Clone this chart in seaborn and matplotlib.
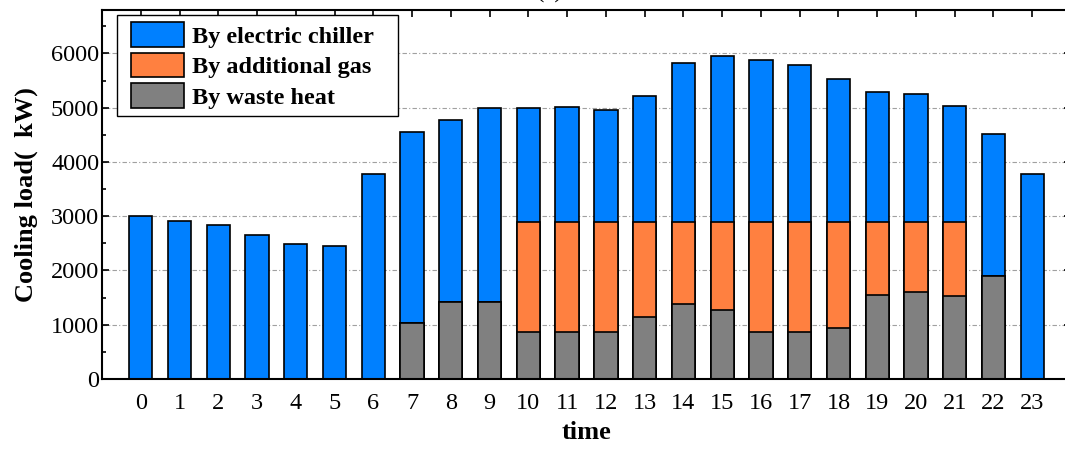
import matplotlib
matplotlib.use("Agg")
import matplotlib.pyplot as plt
from matplotlib.patches import Patch, Rectangle
from matplotlib.ticker import MultipleLocator
import numpy as np
import seaborn as sns

# Hourly cooling supply (kW) split by source
hours = list(range(24))
electric_chiller = [3000, 2920, 2830, 2660, 2480, 2450, 3770, 3510, 3370, 3580,
                    2100, 2120, 2050, 2310, 2930, 3060, 2980, 2880, 2630, 2380,
                    2350, 2140, 2610, 3770]
additional_gas = [0, 0, 0, 0, 0, 0, 0, 0, 0, 0,
                  2030, 2030, 2030, 1750, 1510, 1630, 2030, 2030, 1960, 1350,
                  1300, 1370, 0, 0]
waste_heat = [0, 0, 0, 0, 0, 0, 0, 1040, 1410, 1420,
              870, 870, 870, 1150, 1390, 1270, 870, 870, 940, 1550,
              1600, 1530, 1900, 0]

series_labels = ["By electric chiller", "By additional gas", "By waste heat"]
series_colors = ["#0080FF", "#FF8040", "#808080"]

sns.set_style("ticks")
plt.rcParams["font.family"] = ["Liberation Serif", "DejaVu Serif"]
plt.rcParams["text.color"] = "black"
plt.rcParams["axes.labelcolor"] = "black"
plt.rcParams["xtick.color"] = "black"
plt.rcParams["ytick.color"] = "black"

W, H = 1065, 450
fig = plt.figure(figsize=(W / 100, H / 100), dpi=100)
ax = fig.add_axes([102 / W, 71 / H, 969 / W, 369 / H])

# Stacked bars drawn as cumulative layers (top layer first)
waste = np.array(waste_heat)
gas_top = waste + np.array(additional_gas)
total = gas_top + np.array(electric_chiller)
for heights, col in zip([total, gas_top, waste], series_colors):
    sns.barplot(x=hours, y=heights, color=col, saturation=1, width=0.6,
                edgecolor="black", linewidth=1.2, ax=ax, zorder=2)

ax.set_xlim(-1, 24)
ax.set_ylim(0, 6800)
ax.yaxis.set_major_locator(MultipleLocator(1000))
ax.yaxis.set_minor_locator(MultipleLocator(500))
ax.grid(axis="y", which="major", color="#a0a0a0", linestyle=(0, (4, 2, 1, 2)),
        linewidth=0.8)
ax.grid(axis="x", visible=False)
ax.set_axisbelow(True)

for sp in ax.spines.values():
    sp.set_visible(True)
    sp.set_linewidth(1.5)
    sp.set_color("black")

ax.tick_params(axis="both", which="both", direction="in", top=True, right=True,
               width=1.2, labelsize=17.5, colors="black")
ax.tick_params(axis="both", which="major", length=5)
ax.tick_params(axis="y", which="minor", length=3)
ax.tick_params(axis="x", pad=10)
ax.tick_params(axis="y", pad=2)

ax.set_xlabel("time", fontsize=19, fontweight="bold", labelpad=5, color="black")
ax.set_ylabel("Cooling load(  kW)", fontsize=19, fontweight="bold", labelpad=9,
              color="black")

# Legend box: white panel with a thin black border, entries placed inside
to_fig = lambda px, py: (px / W, 1 - py / H)
x0, y0 = to_fig(117, 116)
frame = Rectangle((x0, y0), (398 - 117) / W, (116 - 15) / H,
                  transform=fig.transFigure, facecolor="white",
                  edgecolor="black", linewidth=1.0, zorder=4)
ax.add_patch(frame)

handles = [Patch(facecolor=c, edgecolor="black", linewidth=1.2) for c in series_colors]
leg = ax.legend(handles, series_labels, loc="upper left",
                bbox_to_anchor=to_fig(131, 22), bbox_transform=fig.transFigure,
                borderaxespad=0, borderpad=0,
                prop={"weight": "bold", "size": 17.5}, frameon=False,
                handlelength=2.2, handleheight=1.2, labelspacing=0.2,
                handletextpad=0.3, labelcolor="black")
leg.set_zorder(5)

fig.text(550 / W, 1 + 2.5 / H, "(a)", ha="center", va="baseline", fontsize=18,
         color="black")

fig.savefig("out.png", dpi=100)
